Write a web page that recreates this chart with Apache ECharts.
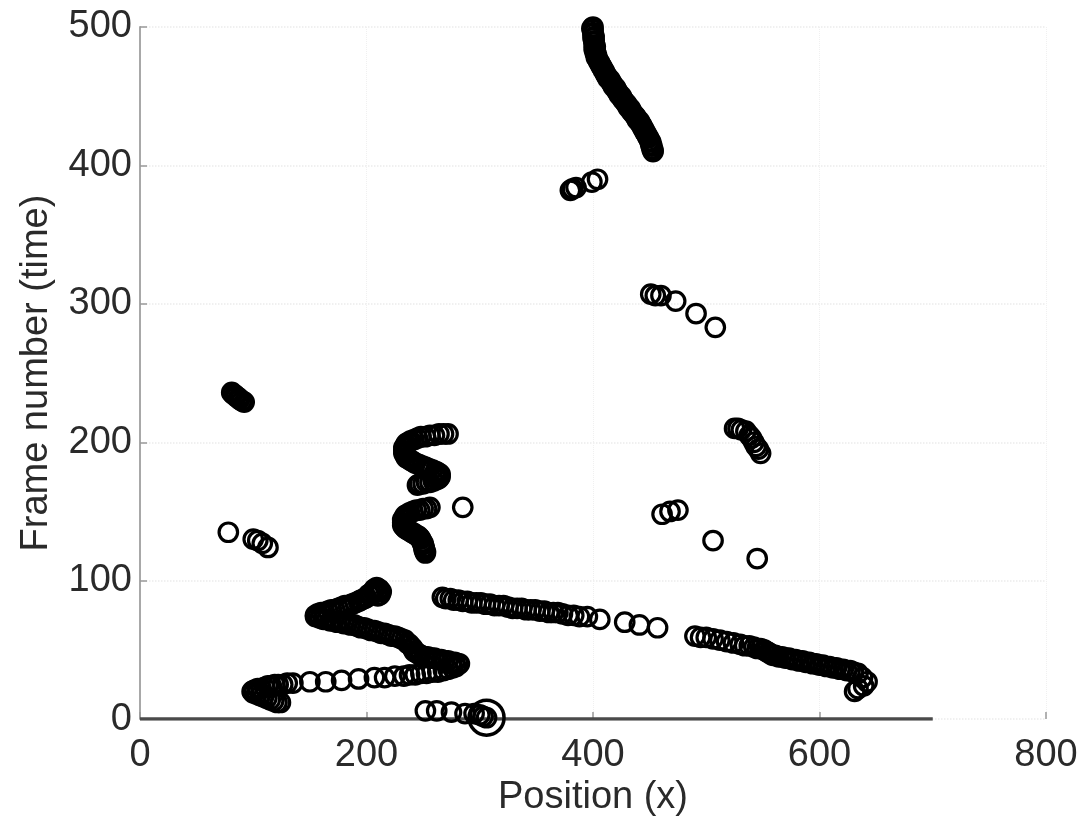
<!DOCTYPE html>
<html>
<head>
<meta charset="utf-8">
<script src="https://cdn.jsdelivr.net/npm/echarts@6/dist/echarts.min.js"></script>
<style>
  html, body { margin: 0; padding: 0; background: #fff; }
  #chart { width: 1085px; height: 822px; }
</style>
</head>
<body>
<div id="chart"></div>
<script>
// Tracked object positions: each entry is [position x, frame number]
const topTrack = [[400,500],[399,499],[400,498],[400,496],[400,495],[401,493],[400,492],[401,490],[401,489],[401,487],[402,486],[401,484],[402,483],[402,481],[403,480],[403,478],[404,477],[405,475],[406,474],[407,472],[408,471],[409,469],[410,468],[411,466],[412,465],[413,463],[415,462],[416,460],[417,459],[418,457],[420,456],[421,454],[422,453],[423,451],[425,450],[426,448],[427,447],[429,445],[430,444],[431,442],[433,441],[434,439],[435,438],[437,436],[438,435],[439,433],[441,432],[442,430],[443,429],[444,427],[445,426],[446,424],[447,423],[448,421],[449,420],[450,418],[451,417],[451,415],[452,414],[452,412],[453,411],[453,410]];
const upperPair = [[380,382],[382,383],[385,384],[399,388],[404,390]];
const upperRightTrack = [[451,307],[455,306],[460,306],[473,302],[491,293],[508,283]];
const rightMidTrack = [[525,210],[528,210],[531,209],[535,208],[538,205],[540,203],[542,200],[544,197],[546,195],[548,192]];
const rightLowTrack = [[461,148],[468,150],[475,151],[506,129],[545,116]];
const leftTopTrack = [[81,236],[82,235],[84,234],[85,233],[87,232],[88,231],[90,230],[92,229]];
const leftMidTrack = [[78,135],[100,130],[104,129],[108,127],[113,124]];
const centreUpper = [[272,206],[268,206],[264,206],[260,205],[256,205],[252,204],[248,204],[245,203],[242,202],[239,201],[237,200],[235,199],[234,197],[233,196],[233,194],[233,192],[234,191],[235,189],[237,188],[239,187],[241,186],[243,185],[246,184],[249,183],[252,182],[255,181],[258,180],[261,179],[263,178],[265,177],[265,175],[264,174],[262,173],[259,172],[256,171],[253,171],[250,170],[247,170],[245,169]];
const centreLower = [[256,153],[253,152],[250,152],[247,151],[244,151],[241,150],[238,149],[236,148],[234,147],[233,145],[232,144],[232,142],[232,140],[233,139],[234,138],[236,137],[238,136],[240,135],[242,134],[244,133],[246,132],[247,131],[248,130],[249,128],[250,127],[250,126],[251,124],[251,123],[251,122],[252,121],[252,120]];
const loneMark = [[285,153]];
const lowLeftTrack = [[124,12],[121,12],[118,13],[115,14],[112,15],[109,16],[106,17],[103,18],[100,19],[99,20],[101,21],[104,22],[107,22],[110,23],[113,24],[116,24],[119,25],[122,25],[126,25],[130,26],[135,26],[150,27],[164,27],[178,28],[193,29],[207,30],[216,30],[225,31],[233,31],[238,32],[243,32],[248,33],[253,33],[258,34],[263,34],[268,35],[272,36],[276,37],[279,38],[282,40]];
const swoopTrack = [[281,40],[278,41],[275,41],[272,42],[269,42],[266,43],[263,43],[260,44],[257,44],[254,45],[251,45],[248,46],[246,47],[244,48],[242,49],[241,51],[240,52],[238,54],[236,55],[234,57],[231,58],[228,59],[225,60],[222,60],[219,61],[216,62],[213,62],[210,63],[207,64],[204,64],[201,65],[198,66],[195,66],[192,67],[189,68],[186,68],[183,69],[180,69],[177,70],[174,70],[171,71],[168,71],[165,72],[162,72],[159,73],[157,74],[155,74],[155,75],[157,76],[160,77],[163,77],[166,78],[169,79],[172,79],[175,80],[178,81],[181,82],[184,82],[187,83],[190,84],[193,85],[195,86],[198,87],[200,88],[202,90],[204,91],[206,92],[207,94],[209,95],[211,94],[212,93],[213,92],[212,90],[210,89]];
const midLine = [[267,88],[270,87],[274,87],[277,86],[281,86],[285,85],[289,85],[293,84],[297,84],[301,84],[305,83],[309,83],[313,82],[317,82],[321,82],[325,81],[329,80],[333,80],[337,80],[341,79],[345,79],[349,79],[353,78],[357,78],[361,77],[365,77],[369,77],[373,76],[378,75],[383,75],[388,74],[395,74],[406,72],[428,70],[441,68],[457,66]];
const rightLine = [[490,60],[495,59],[500,59],[506,58],[512,57],[518,56],[524,55],[530,54],[534,53],[538,53],[542,52],[545,51],[548,51],[551,50],[553,49],[555,48],[557,47],[559,46],[561,46],[564,45],[567,45],[570,44],[573,44],[576,43],[579,43],[582,42],[585,42],[588,41],[591,41],[594,40],[597,40],[600,39],[603,39],[606,38],[609,38],[612,37],[615,37],[618,36],[621,36],[624,35],[627,35],[630,34],[634,33],[638,30],[642,27],[639,24],[634,22],[631,20]];
const floorTrack = [[252,6],[262,6],[275,5],[287,4],[295,4],[300,3],[303,2],[306,1]];
const finalMark = [[306,1]];

// Axis setup
const xTicks = [0, 200, 400, 600, 800];
const yTicks = [0, 100, 200, 300, 400, 500];
const baseline = [[0, 0], [700, 0]];

const tracks = [topTrack, upperPair, upperRightTrack, rightMidTrack, rightLowTrack,
  leftTopTrack, leftMidTrack, centreUpper, centreLower, loneMark, lowLeftTrack,
  swoopTrack, midLine, rightLine, floorTrack];

const ringStyle = { color: 'rgba(0,0,0,0)', borderColor: '#000', borderWidth: 3.2, opacity: 1 };
const labelFont = { fontFamily: 'Liberation Sans, Arial, sans-serif', fontSize: 38, color: '#2a2a2a' };

const series = [{
  type: 'line',
  data: baseline,
  symbol: 'none',
  silent: true,
  lineStyle: { color: '#4a4a4a', width: 3.5 },
  z: 1
}];
tracks.forEach(t => series.push({
  type: 'scatter',
  data: t,
  symbol: 'circle',
  symbolSize: 18.5,
  itemStyle: ringStyle,
  silent: true,
  z: 3
}));
series.push({
  type: 'scatter',
  data: finalMark,
  symbol: 'circle',
  symbolSize: 35,
  itemStyle: { color: 'rgba(0,0,0,0)', borderColor: '#000', borderWidth: 3.5, opacity: 1 },
  silent: true,
  z: 4
});

const chart = echarts.init(document.getElementById('chart'), null, { renderer: 'canvas' });
chart.setOption({
  animation: false,
  backgroundColor: '#fff',
  grid: { left: 140, right: 39, top: 27, bottom: 97, containLabel: false },
  xAxis: {
    type: 'value',
    min: xTicks[0], max: xTicks[xTicks.length - 1], interval: 200,
    name: 'Position (x)',
    nameLocation: 'middle',
    nameGap: 54,
    nameTextStyle: labelFont,
    axisLine: { show: false },
    axisTick: { show: true, inside: true, length: 7, lineStyle: { color: '#999', width: 1.5 } },
    axisLabel: Object.assign({ margin: 17 }, labelFont),
    splitLine: { show: true, lineStyle: { color: '#f0f0f0', type: 'dotted', width: 1 } }
  },
  yAxis: {
    type: 'value',
    min: yTicks[0], max: yTicks[yTicks.length - 1], interval: 100,
    name: 'Frame number (time)',
    nameLocation: 'middle',
    nameGap: 84,
    nameTextStyle: labelFont,
    axisLine: { show: true, lineStyle: { color: '#a8a8a8', width: 2 } },
    axisTick: { show: true, inside: true, length: 7, lineStyle: { color: '#999', width: 1.5 } },
    axisLabel: Object.assign({ margin: 8 }, labelFont),
    splitLine: { show: true, lineStyle: { color: '#ebebeb', type: 'dotted', width: 1.5 } }
  },
  series: series
});
</script>
</body>
</html>
